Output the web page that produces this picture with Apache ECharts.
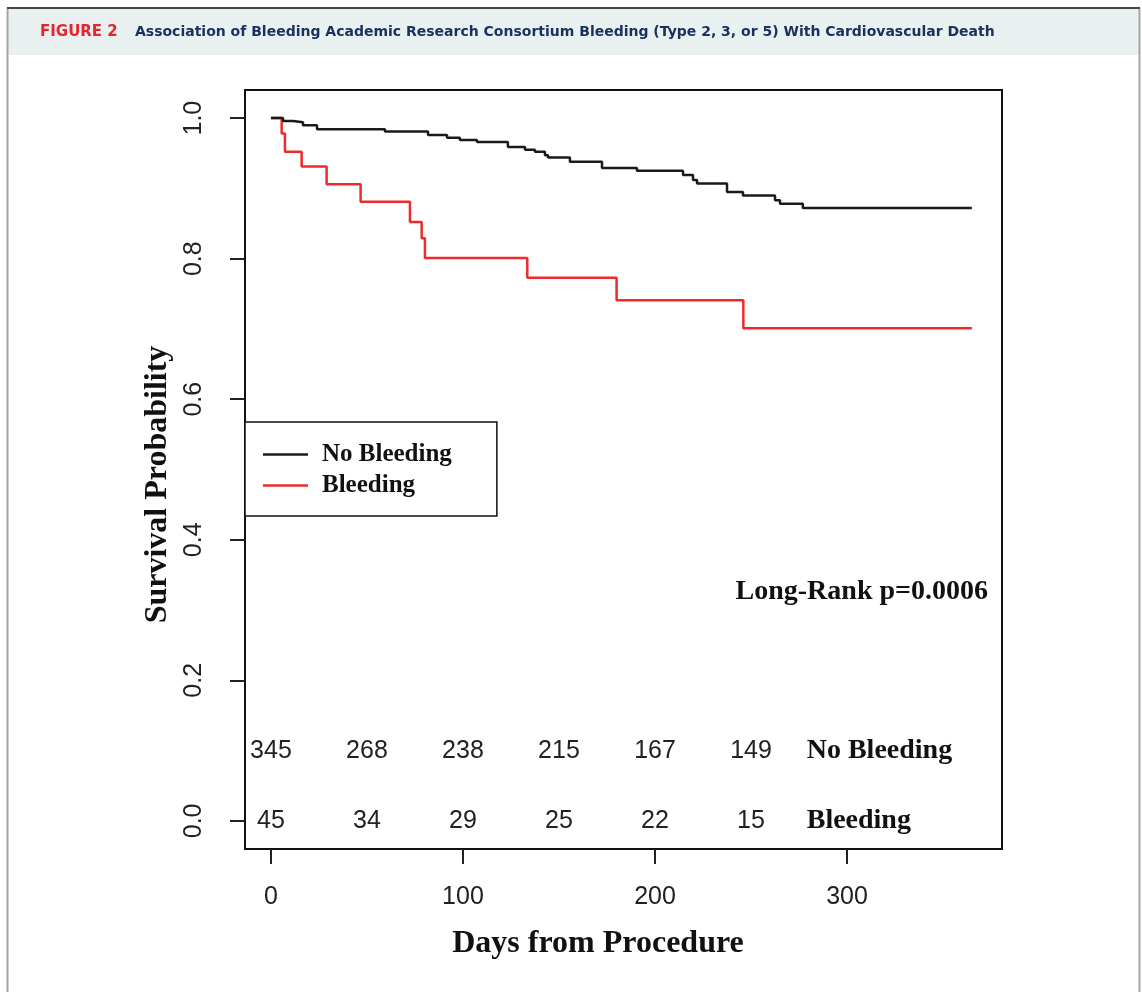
<!DOCTYPE html>
<html>
<head>
<meta charset="utf-8">
<title>Figure 2</title>
<script src="https://cdn.jsdelivr.net/npm/echarts@6/dist/echarts.min.js"></script>
<style>
html, body { margin: 0; padding: 0; background: #fff; }
#chart { width: 1142px; height: 992px; }
</style>
</head>
<body>
<div id="chart"></div>
<script>
// Kaplan-Meier steps (day, survival probability)
const noBleedDays = [0, 6.3, 11.5, 16.7, 24, 59.4, 81.8, 91.7, 98.4, 107.3, 123.4, 132.3, 137.5, 142.7, 144.3, 155.7, 172.4, 190.6, 214.6, 219.8, 221.9, 237.5, 245.8, 262.5, 265.1, 277, 365]
const noBleedSurv = [1, 0.996, 0.994, 0.99, 0.984, 0.981, 0.976, 0.972, 0.969, 0.966, 0.959, 0.955, 0.952, 0.947, 0.944, 0.938, 0.929, 0.925, 0.919, 0.912, 0.907, 0.895, 0.89, 0.883, 0.878, 0.872, 0.872]

const bleedDays = [0, 5.6, 7.3, 16, 29, 46.7, 72.4, 78.5, 80.2, 133.5, 180, 246, 365]
const bleedSurv = [1, 0.978, 0.952, 0.931, 0.906, 0.881, 0.852, 0.829, 0.801, 0.773, 0.741, 0.701, 0.701]

// numbers at risk
const riskDays = [0, 50, 100, 150, 200, 250]
const noBleedRisk = [345, 268, 238, 215, 167, 149]
const bleedRisk = [45, 34, 29, 25, 22, 15]

const xTicks = [0, 100, 200, 300]
const yTicks = [0, 0.2, 0.4, 0.6, 0.8, 1.0]

const titleText = 'Association of Bleeding Academic Research Consortium Bleeding (Type 2, 3, or 5) With Cardiovascular Death'

const serif = '"Liberation Serif", "Times New Roman", serif'
const sans = '"Liberation Sans", Arial, sans-serif'

let myChart = echarts.init(document.getElementById('chart'))

myChart.setOption({
  animation: false,
  backgroundColor: '#fff',
  title: {
    left: 40,
    top: 25,
    padding: 0,
    text: '{a|FIGURE 2}{b|' + titleText + '}',
    textStyle: {
      rich: {
        a: { width: 95, color: '#e3262f', fontFamily: '"DejaVu Sans"', fontWeight: 'bold', fontSize: 15 },
        b: { color: '#1b3260', fontFamily: '"DejaVu Sans"', fontWeight: 'bold', fontSize: 14 }
      }
    }
  },
  graphic: [
    { type: 'rect', shape: { x: 8, y: 9, width: 1131, height: 46 }, style: { fill: '#e8f1f0' }, z: -10 },
    { type: 'line', shape: { x1: 7, y1: 8, x2: 1140, y2: 8 }, style: { stroke: '#444', lineWidth: 2 } },
    { type: 'line', shape: { x1: 7.5, y1: 9, x2: 7.5, y2: 992 }, style: { stroke: '#a6a6a6', lineWidth: 2 } },
    { type: 'line', shape: { x1: 1139.5, y1: 9, x2: 1139.5, y2: 992 }, style: { stroke: '#a6a6a6', lineWidth: 2 } },
    {
      type: 'text',
      x: 988,
      y: 592,
      style: {
        text: 'Long-Rank p=0.0006',
        font: 'bold 28px ' + serif,
        fill: '#111',
        textAlign: 'right',
        textVerticalAlign: 'middle'
      }
    },
    {
      type: 'text',
      x: 598,
      y: 944,
      style: {
        text: 'Days from Procedure',
        font: 'bold 32px ' + serif,
        fill: '#111',
        textAlign: 'center',
        textVerticalAlign: 'middle'
      }
    }
  ],
  legend: {
    data: ['No Bleeding', 'Bleeding'],
    orient: 'vertical',
    left: 245,
    top: 422,
    padding: [20, 45, 18, 18],
    itemWidth: 45,
    itemHeight: 2.5,
    itemGap: 6,
    icon: 'rect',
    borderColor: '#111',
    borderWidth: 1.5,
    backgroundColor: '#fff',
    textStyle: {
      fontFamily: serif,
      fontWeight: 'bold',
      fontSize: 25,
      color: '#111',
      padding: [0, 0, 0, 9]
    }
  },
  grid: {
    show: true,
    left: 245,
    top: 90,
    width: 757,
    height: 759,
    borderColor: '#111',
    borderWidth: 2,
    backgroundColor: 'transparent'
  },
  xAxis: {
    type: 'value',
    min: -13.5,
    max: 380.7,
    axisLine: { show: false, onZero: false },
    splitLine: { show: false },
    axisTick: { show: true, inside: false, length: 15, customValues: xTicks, lineStyle: { color: '#222', width: 2 } },
    axisLabel: { customValues: xTicks, margin: 36, fontFamily: sans, fontSize: 25, color: '#222' }
  },
  yAxis: {
    type: 'value',
    min: -0.04,
    max: 1.04,
    name: 'Survival Probability',
    nameLocation: 'middle',
    nameGap: 67,
    nameTextStyle: { fontFamily: serif, fontWeight: 'bold', fontSize: 32, color: '#111', padding: [0, 30, 0, 0] },
    axisLine: { show: false, onZero: false },
    splitLine: { show: false },
    axisTick: { show: true, inside: false, length: 15, customValues: yTicks, lineStyle: { color: '#222', width: 2 } },
    axisLabel: {
      customValues: yTicks,
      rotate: 90,
      margin: 38,
      fontFamily: sans,
      fontSize: 25,
      color: '#222',
      formatter: v => v.toFixed(1)
    }
  },
  series: [
    {
      name: 'Bleeding',
      type: 'line',
      step: 'end',
      showSymbol: false,
      symbol: 'none',
      color: '#ee2b2b',
      lineStyle: { width: 2.5, color: '#ee2b2b' },
      data: bleedDays.map((d, i) => [d, bleedSurv[i]]),
      z: 2
    },
    {
      name: 'No Bleeding',
      type: 'line',
      step: 'end',
      showSymbol: false,
      symbol: 'none',
      color: '#1a1a1a',
      lineStyle: { width: 2.5, color: '#1a1a1a' },
      data: noBleedDays.map((d, i) => [d, noBleedSurv[i]]),
      z: 3
    },
    {
      name: 'risk',
      type: 'scatter',
      silent: true,
      symbolSize: 0,
      itemStyle: { color: '#222', opacity: 1 },
      label: {
        show: true,
        position: 'inside',
        formatter: p => p.value[2],
        fontFamily: sans,
        fontSize: 25,
        color: '#222',
        opacity: 1,
        textBorderWidth: 0
      },
      data: riskDays.map((d, i) => [d, 0.1, noBleedRisk[i]])
        .concat(riskDays.map((d, i) => [d, 0, bleedRisk[i]]))
    },
    {
      name: 'riskRows',
      type: 'scatter',
      silent: true,
      symbolSize: 0,
      itemStyle: { color: '#111', opacity: 1 },
      label: {
        show: true,
        position: 'right',
        distance: 0,
        formatter: p => p.value[2],
        fontFamily: serif,
        fontWeight: 'bold',
        fontSize: 28,
        color: '#111',
        opacity: 1,
        textBorderWidth: 0
      },
      data: [[279, 0.1, 'No Bleeding'], [279, 0, 'Bleeding']]
    }
  ]
})
</script>
</body>
</html>
